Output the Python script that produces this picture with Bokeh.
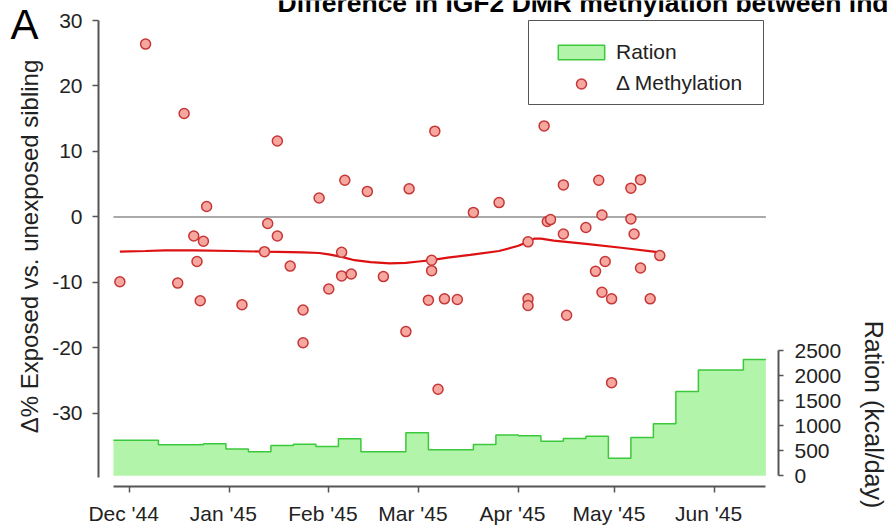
import math

import pandas as pd
from bokeh.embed import file_html
from bokeh.models import (BoxAnnotation, ColumnDataSource, DatetimeTickFormatter,
                          FixedTicker, Label, Legend, LegendItem, LinearAxis, Range1d)
from bokeh.plotting import figure
from bokeh.resources import INLINE

FONT = "Liberation Sans"

# --- methylation difference per sibling pair (exposed minus unexposed, %) ---
meth_dates = [
    "1944-11-28", "1944-12-06", "1944-12-16", "1944-12-18", "1944-12-21",
    "1944-12-22", "1944-12-23", "1944-12-24", "1944-12-25", "1945-01-05",
    "1945-01-12", "1945-01-13", "1945-01-16", "1945-01-16", "1945-01-20",
    "1945-01-24", "1945-01-24", "1945-01-29", "1945-02-01", "1945-02-05",
    "1945-02-05", "1945-02-06", "1945-02-08", "1945-02-13", "1945-02-18",
    "1945-02-25", "1945-02-26", "1945-03-04", "1945-03-05", "1945-03-05",
    "1945-03-06", "1945-03-07", "1945-03-09", "1945-03-13", "1945-03-18",
    "1945-03-26", "1945-04-04", "1945-04-04", "1945-04-04", "1945-04-09",
    "1945-04-10", "1945-04-11", "1945-04-15", "1945-04-15", "1945-04-16",
    "1945-04-22", "1945-04-25", "1945-04-26", "1945-04-27", "1945-04-27",
    "1945-04-28", "1945-04-30", "1945-04-30", "1945-05-06", "1945-05-06",
    "1945-05-07", "1945-05-09", "1945-05-09", "1945-05-12", "1945-05-15",
]
meth_delta = [
    -9.9, 26.4, -10.1, 15.8, -2.9,
    -6.8, -12.8, -3.7, 1.6, -13.4,
    -5.3, -1.0, 11.6, -2.9, -7.5,
    -14.2, -19.2, 2.9, -11.0, -5.4,
    -9.0, 5.6, -8.7, 3.9, -9.1,
    -17.5, 4.3, -12.7, -6.6, -8.2,
    13.1, -26.3, -12.5, -12.6, 0.7,
    2.2, -3.8, -12.5, -13.5, 13.9,
    -0.7, -0.4, 4.9, -2.6, -15.0,
    -1.6, -8.3, 5.6, 0.3, -11.5,
    -6.8, -12.5, -25.3, 4.4, -0.3,
    -2.6, 5.7, -7.8, -12.5, -5.9,
]

# --- smoothed trend of the methylation difference ---
smooth_dates = [
    "1944-11-28", "1944-12-06", "1944-12-12", "1944-12-21", "1945-01-02",
    "1945-01-12", "1945-01-24", "1945-01-29", "1945-02-01", "1945-02-05",
    "1945-02-09", "1945-02-14", "1945-02-20", "1945-02-25", "1945-03-01",
    "1945-03-05", "1945-03-10", "1945-03-17", "1945-03-26", "1945-04-01",
    "1945-04-04", "1945-04-06", "1945-04-08", "1945-04-12", "1945-04-22",
    "1945-05-03", "1945-05-15",
]
smooth_delta = [
    -5.3, -5.2, -5.1, -5.1, -5.2,
    -5.3, -5.4, -5.5, -5.7, -6.1,
    -6.6, -6.9, -7.1, -7.0, -6.8,
    -6.6, -6.2, -5.8, -5.2, -4.4,
    -3.8, -3.3, -3.3, -3.6, -4.1,
    -4.7, -5.4,
]

# --- official daily ration (kcal/day), each value holds from its start date ---
ration_start = [
    "1944-11-26", "1944-12-10", "1944-12-24", "1944-12-31", "1945-01-07",
    "1945-01-14", "1945-01-21", "1945-01-28", "1945-02-04", "1945-02-11",
    "1945-02-25", "1945-03-04", "1945-03-18", "1945-03-25", "1945-04-01",
    "1945-04-08", "1945-04-15", "1945-04-22", "1945-04-29", "1945-05-06",
    "1945-05-13", "1945-05-20", "1945-05-27", "1945-06-10",
]
ration_end = "1945-06-17"
ration_kcal = [
    710, 620, 640, 535, 480,
    605, 630, 585, 740, 480,
    860, 520, 625, 815, 800,
    690, 745, 790, 350, 765,
    1040, 1680, 2110, 2320,
]

month_ticks = ["1944-12-01", "1945-01-01", "1945-02-01", "1945-03-01",
               "1945-04-01", "1945-05-01", "1945-06-01"]
month_labels = ["Dec '44", "Jan '45", "Feb '45", "Mar '45",
                "Apr '45", "May '45", "Jun '45"]
left_ticks = [-30, -20, -10, 0, 10, 20, 30]
right_ticks = [0, 500, 1000, 1500, 2000, 2500]

title_text = "Difference in IGF2 DMR methylation between individuals"
panel_letter = "A"
left_title = "\u0394% Exposed vs. unexposed sibling"
right_title = "Ration (kcal/day)"

# --- page geometry: the plotting frame covers the whole canvas, axes sit at fixed spots ---
W, H = 890, 528
REF_DAY, REF_PX, PX_PER_DAY = pd.Timestamp("1944-12-01"), 129.0, 3.214
EPOCH = pd.Timestamp("1970-01-01")


def date_at(px):
    return REF_DAY + pd.Timedelta(days=(px - REF_PX) / PX_PER_DAY)


def ms_at(px):
    return (date_at(px) - EPOCH) / pd.Timedelta(milliseconds=1)


def delta_at(py):
    return 30 - (py - 20) / 6.549


def kcal_at(py):
    return (475.3 - py) / 0.05012


def to_dt(seq):
    return list(pd.to_datetime(seq))


def to_ms(seq):
    return [(t - EPOCH) / pd.Timedelta(milliseconds=1) for t in pd.to_datetime(seq)]


meth_src = ColumnDataSource(dict(x=to_dt(meth_dates), y=meth_delta))
smooth_src = ColumnDataSource(dict(x=to_dt(smooth_dates), y=smooth_delta))
step_x = to_dt(ration_start + [ration_end])
step_y = ration_kcal + [ration_kcal[-1]]
ration_src = ColumnDataSource(dict(x=step_x, y=step_y, y0=[0] * len(step_y)))

p = figure(
    width=W, height=H,
    x_axis_type="datetime",
    x_range=Range1d(date_at(0).to_pydatetime(), date_at(W).to_pydatetime()),
    y_range=Range1d(delta_at(H), delta_at(0)),
    output_backend="svg", toolbar_location=None,
    min_border=0, min_border_left=0, min_border_right=0,
    min_border_top=0, min_border_bottom=0,
)
p.title.visible = False
p.extra_y_ranges = {"ration": Range1d(kcal_at(H), kcal_at(0))}
p.outline_line_color = None
p.xgrid.visible = False
p.ygrid.visible = False
p.background_fill_color = "white"
p.border_fill_color = "white"

AXIS_COLOR = "#555555"
TEXT_COLOR = "#222222"


def style_axis(ax):
    ax.axis_line_color = AXIS_COLOR
    ax.axis_line_width = 2
    ax.major_tick_line_color = AXIS_COLOR
    ax.major_tick_line_width = 1.5
    ax.major_tick_in = 0
    ax.minor_tick_line_color = None
    ax.major_label_text_font = FONT
    ax.major_label_text_font_size = "21px"
    ax.major_label_text_color = TEXT_COLOR


# bottom date axis (labels sit slightly left of their ticks)
xa = p.xaxis[0]
style_axis(xa)
xa.fixed_location = delta_at(486)
xa.ticker = FixedTicker(ticks=to_ms(month_ticks))
xa.formatter = DatetimeTickFormatter(days="%b '%y", months="%b '%y", years="%b '%y")
xa.major_label_overrides = {ms: lab + "\u00a0\u00a0"
                            for ms, lab in zip(to_ms(month_ticks), month_labels)}
xa.bounds = (pd.Timestamp(ration_start[0]).to_pydatetime(),
             pd.Timestamp(ration_end).to_pydatetime())
xa.major_tick_out = 6
xa.major_label_standoff = 9

# left methylation axis
ya = p.yaxis[0]
style_axis(ya)
ya.fixed_location = ms_at(98)
ya.ticker = FixedTicker(ticks=left_ticks)
ya.major_label_overrides = {t: str(t) for t in left_ticks}
ya.bounds = (-39.8, 30)
ya.major_tick_out = 6
ya.major_label_standoff = 10

# right ration axis
ra = LinearAxis(y_range_name="ration")
style_axis(ra)
ra.fixed_location = ms_at(778)
ra.ticker = FixedTicker(ticks=right_ticks)
ra.major_label_overrides = {t: str(t) for t in right_ticks}
ra.bounds = (0, 2500)
ra.major_tick_out = 5
ra.major_label_standoff = 11
p.add_layout(ra, "right")

# ration as a filled step area
GREEN_FILL = "#b2f5aa"
GREEN_LINE = "#3cc83c"
p.varea_step(x="x", y1="y0", y2="y", step_mode="after", source=ration_src,
             fill_color=GREEN_FILL, y_range_name="ration")
p.step(x="x", y="y", mode="after", source=ration_src, line_color=GREEN_LINE,
       line_width=1.5, y_range_name="ration")
# legend key only (no drawable extent)
nan = float("nan")
swatch = p.quad(left=[nan], right=[nan], bottom=[nan], top=[nan], fill_color=GREEN_FILL,
                line_color=GREEN_LINE, line_width=1.5)

# zero reference line across the ration period
p.line(x=[step_x[0], step_x[-1]], y=[0, 0], line_color="#8c8c8c", line_width=1.5)

# smoothed trend and individual pairs
p.line(x="x", y="y", source=smooth_src, line_color="#dd1111", line_width=2.2)
dots = p.scatter(x="x", y="y", source=meth_src, marker="circle", size=10,
                 fill_color="#f6a8a0", line_color="#c73636", line_width=1.5)

# legend: framed box with the two keys inside
p.add_layout(BoxAnnotation(left=528, right=763, top=H - 20, bottom=H - 104,
                           left_units="screen", right_units="screen",
                           top_units="screen", bottom_units="screen",
                           fill_color="white", fill_alpha=1,
                           line_color="#555555", line_width=1, line_alpha=1))
legend_style = dict(glyph_width=58, padding=0, margin=0, label_standoff=6,
                    label_text_font=FONT, label_text_font_size="21px",
                    label_text_color=TEXT_COLOR, border_line_color=None,
                    background_fill_alpha=0)
p.add_layout(Legend(items=[LegendItem(label="Ration", renderers=[swatch])],
                    location=(552, H - 64), glyph_height=18, label_height=18,
                    **legend_style), "center")
p.add_layout(Legend(items=[LegendItem(label="\u0394 Methylation", renderers=[dots])],
                    location=(552, H - 95.5), glyph_height=25, label_height=25,
                    **legend_style), "center")

# axis titles, panel letter and (cropped) heading
p.add_layout(Label(x=29, y=H - 246, x_units="screen", y_units="screen", text=left_title,
                   angle=math.pi / 2, text_align="center", text_baseline="middle",
                   text_font=FONT, text_font_size="24px", text_color=TEXT_COLOR))
p.add_layout(Label(x=873, y=H - 414, x_units="screen", y_units="screen", text=right_title,
                   angle=-math.pi / 2, text_align="center", text_baseline="middle",
                   text_font=FONT, text_font_size="25px", text_color=TEXT_COLOR))
p.add_layout(Label(x=10, y=H - 24, x_units="screen", y_units="screen", text=panel_letter,
                   text_font=FONT, text_font_size="42px", text_color="black",
                   text_baseline="alphabetic"))
p.add_layout(Label(x=277, y=H - 2, x_units="screen", y_units="screen", text=title_text,
                   text_font=FONT, text_font_size="26.5px", text_font_style="bold",
                   text_color="black", text_baseline="alphabetic"))

open("out.html", "w").write(file_html(p, INLINE))
